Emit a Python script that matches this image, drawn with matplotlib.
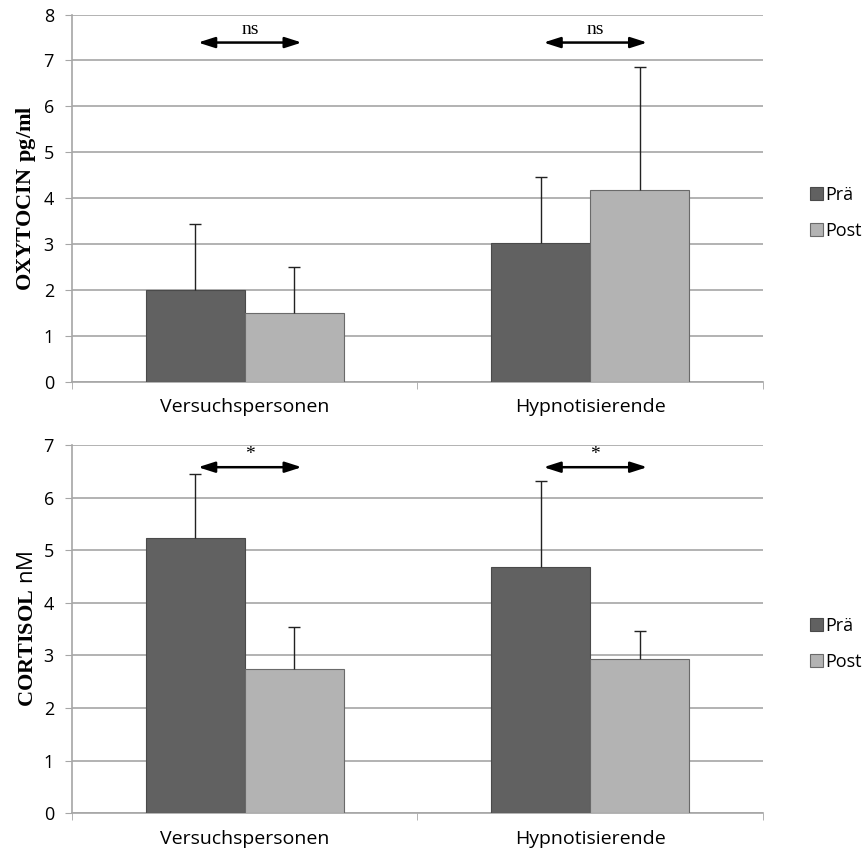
import numpy as np
import matplotlib.pyplot as plt

# Daten
gruppen = ['Versuchspersonen', 'Hypnotisierende']
oxy_prae = [2.0, 3.02]
oxy_prae_err = [1.44, 1.45]
oxy_post = [1.50, 4.17]
oxy_post_err = [1.0, 2.68]
cort_prae = [5.23, 4.68]
cort_prae_err = [1.23, 1.63]
cort_post = [2.75, 2.93]
cort_post_err = [0.79, 0.53]
oxy_sig = ['ns', 'ns']
cort_sig = ['*', '*']

plt.rcParams['font.family'] = ['Open Sans', 'DejaVu Sans']
plt.rcParams['mathtext.fontset'] = 'custom'
plt.rcParams['mathtext.bf'] = 'Liberation Serif:bold'
plt.rcParams['mathtext.rm'] = 'Liberation Serif'

c_prae = '#616161'
c_post = '#b3b3b3'
grid_c = '#a6a6a6'

fig = plt.figure(figsize=(8.67, 8.56), dpi=100)
ax1 = fig.add_axes((0.083, 0.554, 0.797, 0.429))
ax2 = fig.add_axes((0.083, 0.050, 0.797, 0.430))

x = np.arange(len(gruppen))
w = 0.287


def nur_oben(ax, xs, ys, err):
    # Fehlerbalken nur nach oben, untere Kappe ausblenden
    _, caps, _ = ax.errorbar(xs, ys, yerr=[np.zeros(len(ys)), err], fmt='none',
                             ecolor='#222222', elinewidth=1, capsize=4, capthick=1,
                             zorder=4)
    caps[0].set_visible(False)


def panel(ax, prae, prae_err, post, post_err, ymax, sig, y_arrow, ylabel):
    ax.bar(x - w / 2, prae, w, color=c_prae, edgecolor='#4a4a4a', linewidth=0.8,
           label='Prä', zorder=3)
    ax.bar(x + w / 2, post, w, color=c_post, edgecolor='#6a6a6a', linewidth=0.8,
           label='Post', zorder=3)
    nur_oben(ax, x - w / 2, prae, prae_err)
    nur_oben(ax, x + w / 2, post, post_err)
    for i in x:
        ax.annotate('', xy=(i + 0.165, y_arrow), xytext=(i - 0.135, y_arrow),
                    arrowprops=dict(arrowstyle='<|-|>,head_length=1.0,head_width=0.32',
                                    color='black', lw=1.8, shrinkA=0, shrinkB=0),
                    zorder=5)
        ax.text(i + 0.015, y_arrow + ymax * 0.012, sig[i], ha='center', va='bottom',
                fontsize=14, family='Liberation Serif')
    ax.set_xlim(-0.5, 1.5)
    ax.set_ylim(0, ymax)
    ax.set_yticks(range(0, ymax + 1))
    ax.set_xticks(x)
    ax.set_xticklabels(gruppen)
    ax.set_xticks([-0.5, 0.5, 1.5], minor=True)
    ax.tick_params(axis='x', which='major', length=0, pad=12, labelsize=14)
    ax.tick_params(axis='x', which='minor', length=5, color=grid_c, direction='out')
    ax.tick_params(axis='y', length=5, color=grid_c, labelsize=13, pad=8)
    ax.yaxis.grid(True, color=grid_c, linewidth=1.2, zorder=0)
    ax.set_axisbelow(True)
    for s in ['top', 'right']:
        ax.spines[s].set_visible(False)
    ax.spines['left'].set_color(grid_c)
    ax.spines['bottom'].set_color(grid_c)
    ax.spines['left'].set_linewidth(1.2)
    ax.spines['bottom'].set_linewidth(1.2)
    ax.set_ylabel(ylabel, fontsize=16, labelpad=4)
    ax.legend(loc='center left', bbox_to_anchor=(1.045, 0.46), frameon=False,
              fontsize=13, handlelength=0.7, handleheight=0.7, handletextpad=0.15,
              labelspacing=1.0)


panel(ax1, oxy_prae, oxy_prae_err, oxy_post, oxy_post_err, 8, oxy_sig, 7.39,
      r'$\mathbf{OXYTOCIN\ pg/ml}$')
panel(ax2, cort_prae, cort_prae_err, cort_post, cort_post_err, 7, cort_sig, 6.58,
      r'$\mathbf{CORTISOL}$ nM')

fig.savefig('out.png', dpi=100, facecolor='white')
